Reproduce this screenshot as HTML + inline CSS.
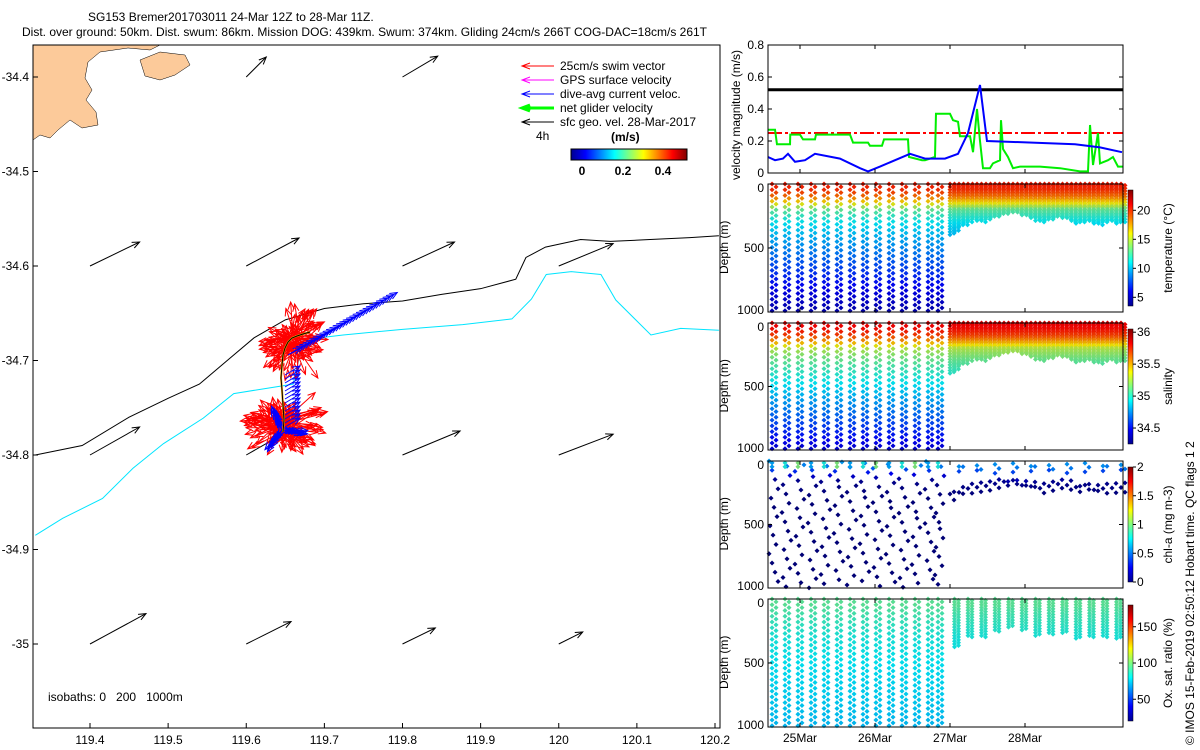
<!DOCTYPE html>
<html><head><meta charset="utf-8"><style>
body{margin:0;background:#fff;}
svg{display:block;font-family:"Liberation Sans",sans-serif;}
text{font-size:12px;fill:#000;}
</style></head><body>
<svg id="s" width="1200" height="750" viewBox="0 0 1200 750" xmlns="http://www.w3.org/2000/svg">
<defs>
<linearGradient id="jetH" x1="0" x2="1" y1="0" y2="0">
<stop offset="0" stop-color="#00008f"/><stop offset="0.125" stop-color="#0000ff"/><stop offset="0.375" stop-color="#00ffff"/><stop offset="0.625" stop-color="#ffff00"/><stop offset="0.875" stop-color="#ff0000"/><stop offset="1" stop-color="#800000"/></linearGradient>
<linearGradient id="jetV" x1="0" x2="0" y1="1" y2="0">
<stop offset="0" stop-color="#00008f"/><stop offset="0.125" stop-color="#0000ff"/><stop offset="0.375" stop-color="#00ffff"/><stop offset="0.625" stop-color="#ffff00"/><stop offset="0.875" stop-color="#ff0000"/><stop offset="1" stop-color="#800000"/></linearGradient>
</defs>
<text x="88" y="21">SG153 Bremer201703011 24-Mar 12Z to 28-Mar 11Z.</text>
<text x="22" y="36">Dist. over ground: 50km. Dist. swum: 86km. Mission DOG: 439km. Swum: 374km. Gliding 24cm/s 266T COG-DAC=18cm/s 261T</text>
<g id="map"></g>
<g id="right"></g>
<text transform="translate(1194,745) rotate(-90)">© IMOS 15-Feb-2019 02:50:12 Hobart time. QC flags 1  2</text>
</svg>
<script>
// ---- map data ----
const mapLonTicks=[119.4,119.5,119.6,119.7,119.8,119.9,120,120.1,120.2];
const mapLatTicks=[-34.4,-34.5,-34.6,-34.7,-34.8,-34.9,-35];
const iso200Lon=[119.33,119.39,119.45,119.50,119.54,119.58,119.61,119.65,119.70,119.75,119.80,119.85,119.90,119.945,119.958,119.983,120.028,120.066,120.117,120.168,120.205];
const iso200Lat=[-34.80,-34.79,-34.76,-34.74,-34.725,-34.697,-34.676,-34.657,-34.645,-34.64,-34.637,-34.63,-34.624,-34.614,-34.591,-34.58,-34.572,-34.574,-34.572,-34.570,-34.568];
const iso1000Lon=[119.33,119.365,119.416,119.455,119.494,119.545,119.584,119.622,119.66,119.673,119.724,119.80,119.877,119.94,119.965,119.984,120.016,120.054,120.073,120.118,120.156,120.205];
const iso1000Lat=[-34.885,-34.867,-34.846,-34.814,-34.788,-34.761,-34.735,-34.730,-34.725,-34.678,-34.673,-34.667,-34.662,-34.656,-34.635,-34.609,-34.606,-34.609,-34.636,-34.673,-34.666,-34.668];
const geoLon=[119.4,119.6,119.8,120.0, 119.4,119.6,119.8,120.0, 119.4,119.6,119.8,120.0, 119.6,119.8];
const geoLat=[-34.6,-34.6,-34.6,-34.6, -34.8,-34.8,-34.8,-34.8, -35,-35,-35,-35, -34.4,-34.4];
const geoU=[0.62,0.66,0.65,0.68, 0.62,0.56,0.72,0.68, 0.70,0.56,0.41,0.30, 0.25,0.44];
const geoV=[0.30,0.35,0.30,0.28, 0.35,0.32,0.30,0.26, 0.38,0.28,0.20,0.15, 0.25,0.26];
// ---- velocity panel data ----
const dacT=[24.573,24.667,24.773,24.84,24.933,25.067,25.2,25.533,25.8,25.907,26.067,26.467,26.667,26.933,27.107,27.24,27.4,27.493,28.667,29.0,29.293];
const dacV=[0.10,0.08,0.09,0.12,0.07,0.08,0.12,0.09,0.03,0.01,0.04,0.12,0.09,0.09,0.12,0.25,0.55,0.20,0.18,0.16,0.13];
const netT=[24.573,24.667,24.693,24.867,24.87,25,25.04,25.2,25.213,25.667,25.707,25.907,25.933,26.093,26.12,26.44,26.453,26.627,26.667,26.8,26.813,27,27.04,27.107,27.133,27.267,27.307,27.36,27.4,27.44,27.533,27.573,27.667,27.68,27.707,27.773,27.84,27.933,28.2,28.467,28.733,28.84,28.867,28.907,28.973,29,29.107,29.173,29.24,29.307];
const netV=[0.27,0.27,0.18,0.18,0.24,0.24,0.21,0.21,0.24,0.24,0.19,0.19,0.17,0.17,0.21,0.21,0.10,0.08,0.08,0.10,0.37,0.37,0.33,0.32,0.23,0.23,0.13,0.40,0.20,0.03,0.03,0.06,0.08,0.33,0.15,0.10,0.03,0.04,0.04,0.03,0.01,0.01,0.30,0.05,0.25,0.06,0.08,0.10,0.04,0.04];
const sfcGeo=0.52, swimRef=0.25;
const dateTicks=[25,26,27,28], dateLabels=["25Mar","26Mar","27Mar","28Mar"];
// ---- profile data ----
const diveT=[24.627,24.8,24.973,25.147,25.32,25.493,25.667,25.84,26.013,26.187,26.36,26.533,26.707,26.84,
 27.0,27.06,27.12,27.18,27.24,27.3,27.36,27.42,27.48,27.54,27.6,27.66,27.72,27.78,27.84,27.9,27.96,28.02,28.08,28.14,28.2,28.26,28.32,28.38,28.44,28.5,28.56,28.62,28.68,28.74,28.8,28.86,28.92,28.98,29.04,29.1,29.16,29.22,29.28];
const diveMax=[1000,1000,1000,1000,1000,1000,1000,1000,1000,1000,1000,1000,1000,1000,
 400,380,340,320,300,280,290,300,280,270,260,250,240,230,230,240,250,260,270,290,300,290,280,270,260,270,280,300,310,300,290,300,310,320,300,290,300,310,300];
const refDepth=[0,50,100,150,200,300,500,800,1000];
const refTemp=[20.5,20,18.5,16,13,11,9,6,4.5];
const refSal=[35.85,35.8,35.7,35.5,35.25,35.1,34.9,34.6,34.4];
const refChl=[0.6,0.5,0.25,0.05,0.02,0.0,0.0,0.0,0.0];
const refOx=[95,95,92,90,88,84,80,76,72];

const NS="http://www.w3.org/2000/svg";
function el(p,tag,a,txt){const e=document.createElementNS(NS,tag);for(const k in a)e.setAttribute(k,a[k]);if(txt!==undefined)e.textContent=txt;p.appendChild(e);return e;}
function jet(v){v=Math.max(0,Math.min(1,v));const r=Math.max(0,Math.min(1,1.5-Math.abs(4*v-3))),g=Math.max(0,Math.min(1,1.5-Math.abs(4*v-2))),b=Math.max(0,Math.min(1,1.5-Math.abs(4*v-1)));return `rgb(${r*235|0},${g*220|0},${b*235|0})`;}
function interp(xs,ys,x){for(let i=1;i<xs.length;i++){if(x<=xs[i]){const f=(x-xs[i-1])/(xs[i]-xs[i-1]);return ys[i-1]+f*(ys[i]-ys[i-1]);}}return ys[ys.length-1];}

// ---- MAP ----
const map=document.getElementById('map');
const L=33,R=720,T=45,B=728;
const mx=lon=>90+(lon-119.4)*781.25, my=lat=>77+(-34.4-lat)*945;
let coast=el(map,'path',{d:"M33,45 L160,45 L150,50 L128,48 L100,52 L88,62 L85,78 L92,90 L86,100 L96,112 L98,125 L82,128 L70,120 L58,130 L50,138 L40,135 L33,140 Z M140,60 L160,52 L185,55 L190,65 L175,75 L160,80 L145,76 Z",fill:"#fcca9a",stroke:"#000","stroke-width":0.5});


function polyline(lons,lats,col,name){const p=el(map,'polyline',{points:lons.map((l,i)=>mx(l)+","+my(lats[i])).join(" "),fill:"none",stroke:col,"stroke-width":1});}
polyline(iso200Lon,iso200Lat,"#000","isobath-200m");
polyline(iso1000Lon,iso1000Lat,"#00e5ff","isobath-1000m");
function arrow(g,x1,y1,x2,y2,col,w){el(g,'line',{x1,y1,x2,y2,stroke:col,"stroke-width":w||1});const a=Math.atan2(y2-y1,x2-x1),h=8;
 el(g,'polyline',{points:`${x2-h*Math.cos(a-0.4)},${y2-h*Math.sin(a-0.4)} ${x2},${y2} ${x2-h*Math.cos(a+0.4)},${y2-h*Math.sin(a+0.4)}`,fill:"none",stroke:col,"stroke-width":w||1});}
const geoG=el(map,'g',{});


geoLon.forEach((lo,i)=>{const x=mx(lo),y=my(geoLat[i]);arrow(geoG,x,y,x+geoU[i]*80,y-geoV[i]*80,"#000",1);});
const trkX=[283,284,283,282,281,282,283,285,288,292,297,303,310];
const trkY=[432,420,405,390,378,365,355,348,342,338,336,334,332];
const swimG=el(map,'g',{});


for(let k=0;k<260;k++){const c=k<140?[283,425]:[293,342];const a=k*2.39996,r=12+((k*37)%30);const x=c[0]+((k*13)%15-7),y=c[1]+((k*7)%17-8);
 arrow(swimG,x,y,x+r*Math.cos(a),y+r*Math.sin(a)*0.85,"#ff0000",1);}
const dacG=el(map,'g',{});


for(let k=0;k<30;k++){const f=k/29;const x=288+f*(325-288),y=355+f*(335-355);const len=15+f*70;arrow(dacG,x,y,x+len*0.85,y-len*0.5,"#0000ff",1);}
for(let k=0;k<40;k++){const a=k*2.1,r=8+(k%7)*3;arrow(dacG,282,430,282+r*Math.cos(a),430+r*Math.sin(a),"#0000ff",1);}
for(let k=0;k<14;k++){const y=375+k*4;arrow(dacG,285,y,300,y-9,"#0000ff",1);}
const tr=el(map,'polyline',{points:trkX.map((x,i)=>x+","+trkY[i]).join(" "),fill:"none",stroke:"#f0a000","stroke-width":2});


el(map,'polyline',{points:trkX.map((x,i)=>x+","+trkY[i]).join(" "),fill:"none",stroke:"#000","stroke-width":1});
const mf=el(map,'rect',{x:L,y:T,width:R-L,height:B-T,fill:"none",stroke:"#000","stroke-width":1});


mapLonTicks.forEach(v=>{const x=mx(v);el(map,'line',{x1:x,y1:B,x2:x,y2:B-5,stroke:"#000"});const t=el(map,'text',{x:x,y:B+16,"text-anchor":"middle"},String(v));});
mapLatTicks.forEach(v=>{const y=my(v);el(map,'line',{x1:L,y1:y,x2:L+5,y2:y,stroke:"#000"});const t=el(map,'text',{x:L-4,y:y+4,"text-anchor":"end"},String(v));});
const iso=el(map,'text',{x:48,y:701,style:"white-space:pre"},"isobaths: 0   200   1000m");


const legItems=[["25cm/s swim vector","#ff0000",1],["GPS surface velocity","#ff00ff",1],["dive-avg current veloc.","#0000ff",1],["net glider velocity","#00ff00",3],["sfc geo. vel. 28-Mar-2017","#000",1]];
const lg=el(map,'g',{});


legItems.forEach((it,i)=>{const y=66+i*14;const e=el(lg,'g',{});
 el(e,'line',{x1:522,y1:y,x2:554,y2:y,stroke:it[1],"stroke-width":it[2]});el(e,'polyline',{points:`530,${y-3} 522,${y} 530,${y+3}`,fill:"none",stroke:it[1],"stroke-width":it[2]});
 el(e,'text',{x:560,y:y+4},it[0]);});
el(lg,'text',{x:536,y:140},"4h");
el(lg,'text',{x:611,y:141,"font-weight":"bold"},"(m/s)");
el(lg,'rect',{x:571,y:149,width:116,height:11,fill:"url(#jetH)",stroke:"#000"});
[["0",582],["0.2",623],["0.4",663]].forEach(a=>el(lg,'text',{x:a[1],y:175,"text-anchor":"middle","font-weight":"bold"},a[0]));

// ---- RIGHT PANELS ----
const rg=document.getElementById('right');
const PL=768,PR=1123;
const tx=t=>800+(t-25)*75;
function frame(top,bot,name){const r=el(rg,'rect',{x:PL,y:top,width:PR-PL,height:bot-top,fill:"none",stroke:"#000"});
 dateTicks.forEach(d=>{el(rg,'line',{x1:tx(d),y1:bot,x2:tx(d),y2:bot-4,stroke:"#000"});el(rg,'line',{x1:tx(d),y1:top,x2:tx(d),y2:top+4,stroke:"#000"});});}
const vT=45,vB=173,vy=v=>vB-(v/0.8)*(vB-vT);
const vClip=el(rg,'g',{});
el(vClip,'line',{x1:PL,y1:vy(sfcGeo),x2:PR,y2:vy(sfcGeo),stroke:"#000","stroke-width":3});
el(vClip,'line',{x1:PL,y1:vy(swimRef),x2:PR,y2:vy(swimRef),stroke:"#ff0000","stroke-width":2,"stroke-dasharray":"14 3 3 3"});
const gl=el(vClip,'polyline',{points:netT.map((t,i)=>tx(t)+","+vy(netV[i])).join(" "),fill:"none",stroke:"#00ee00","stroke-width":2});


const bl=el(vClip,'polyline',{points:dacT.map((t,i)=>tx(t)+","+vy(dacV[i])).join(" "),fill:"none",stroke:"#0000ff","stroke-width":2});


frame(vT,vB,'velocity-axes');
[0,0.2,0.4,0.6,0.8].forEach(v=>{const y=vy(v);el(rg,'line',{x1:PL,y1:y,x2:PL+4,y2:y,stroke:"#000"});el(rg,'line',{x1:PR,y1:y,x2:PR-4,y2:y,stroke:"#000"});el(rg,'text',{x:PL-4,y:y+4,"text-anchor":"end"},String(v));});
el(rg,'text',{transform:"translate(740,180) rotate(-90)"},"velocity magnitude (m/s)");
const panels=[
 {top:184,bot:312,ref:refTemp,vmin:3.5,vmax:23.5,ticks:[5,10,15,20],label:"temperature (°C)",name:"temperature",step:45},
 {top:323,bot:450,ref:refSal,vmin:34.25,vmax:36.05,ticks:[34.5,35,35.5,36],label:"salinity",name:"salinity",step:45},
 {top:461,bot:588,ref:refChl,vmin:0,vmax:2,ticks:[0,0.5,1,1.5,2],label:"chl-a (mg m-3)",name:"chlorophyll",step:90},
 {top:599,bot:727,ref:refOx,vmin:20,vmax:180,ticks:[50,100,150],label:"Ox. sat. ratio (%)",name:"oxygen",step:45}];
function mark(g,x,y,c){el(g,'path',{d:`M${x},${y-2.5}L${x+2.5},${y}L${x},${y+2.5}L${x-2.5},${y}Z`,fill:c});}
panels.forEach((p,pi)=>{
 const dy=d=>p.top+(d/1000)*(p.bot-p.top);
 const g=el(rg,'g',{});
 const col=d=>jet((interp(refDepth,p.ref,d)-p.vmin)/(p.vmax-p.vmin));
 diveT.forEach((t,i)=>{
  const x0=tx(t);const mxd=diveMax[i];
  if(pi===2){
   if(mxd<500){ if(i%2) return; [15,40,70,mxd*0.55,mxd*0.65,mxd*0.75].forEach((d,j)=>{if(j<3&&i%4)return;mark(g,x0+(j%2)*4,dy(d+((i*13+j*7)%30)),col(d));});}
   else { for(let j=0;j<14;j++){const d=(j*73+i*41)%1000;mark(g,x0+((i*5+j*3)%10)-3,dy(d),col(d));} [15,45].forEach(d=>mark(g,x0,dy(d),jet(0.3+(i%3)*0.1)));}
   return;}
  if(pi===3 && i>=14 && i%3!==0) return;
  const step=mxd<500?22:p.step;
  for(let s=0;s<2;s++){for(let d=s*step/2;d<=mxd;d+=step){mark(g,x0+s*4,dy(d),col(d));}}
 });
 frame(p.top,p.bot,p.name+'-axes');
 [0,500,1000].forEach(d=>{const y=dy(d);el(rg,'line',{x1:PL,y1:y,x2:PL+4,y2:y,stroke:"#000"});el(rg,'line',{x1:PR,y1:y,x2:PR-4,y2:y,stroke:"#000"});el(rg,'text',{x:PL-4,y:y+(d===0?8:(d===1000?2:4)),"text-anchor":"end"},String(d));});
 el(rg,'text',{transform:`translate(728,${(p.top+p.bot)/2+26}) rotate(-90)`},"Depth (m)");
 const cT=p.top+6,cB=p.bot-6;const cb=el(rg,'rect',{x:1128,y:cT,width:5,height:cB-cT,fill:"url(#jetV)",stroke:"#000","stroke-width":0.5});
 
 p.ticks.forEach(v=>{const y=cB-(v-p.vmin)/(p.vmax-p.vmin)*(cB-cT);el(rg,'line',{x1:1133,y1:y,x2:1136,y2:y,stroke:"#000"});el(rg,'text',{x:1137,y:y+4},String(v));});
 el(rg,'text',{transform:`translate(1172,${(p.top+p.bot)/2}) rotate(-90)`,"text-anchor":"middle"},p.label);
});
dateTicks.forEach((d,i)=>{const t=el(rg,'text',{x:tx(d),y:742,"text-anchor":"middle"},dateLabels[i]);});
</script>
</body></html>
